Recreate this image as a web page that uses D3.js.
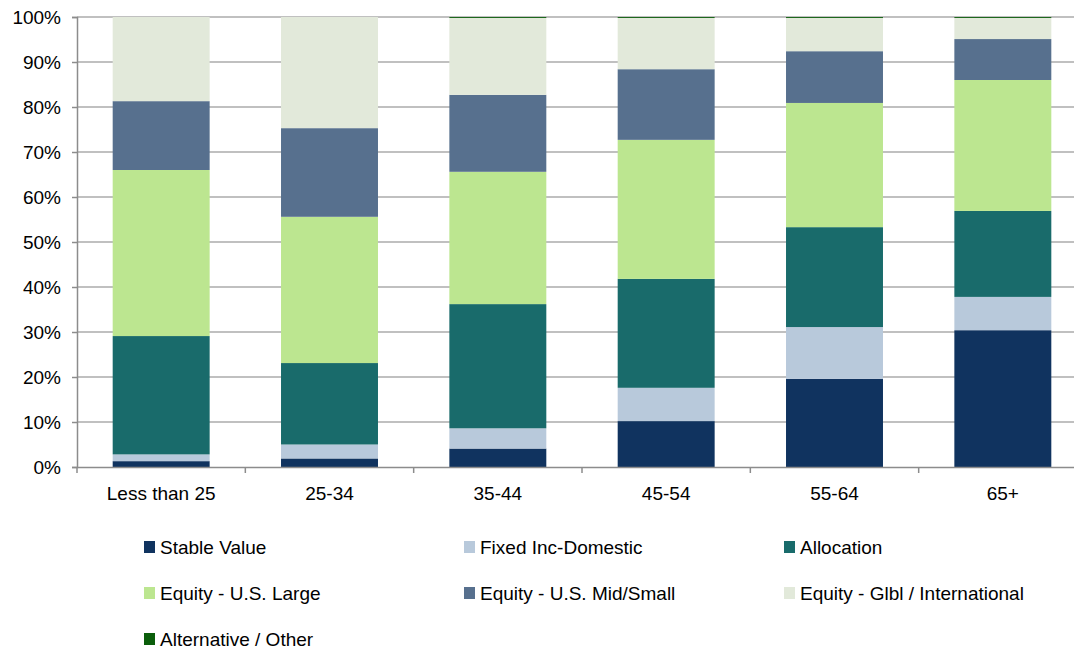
<!DOCTYPE html>
<html>
<head>
<meta charset="utf-8">
<script src="https://cdn.jsdelivr.net/npm/d3@7"></script>
<style>
    body { margin: 0; background: #fff; }
    svg { display: block; font-family: "Liberation Sans", Arial, sans-serif; }
</style>
</head>
<body>
<svg id="chart"></svg>
<script>
const categories = ["Less than 25", "25-34", "35-44", "45-54", "55-64", "65+"]

const seriesNames = [
    "Stable Value",
    "Fixed Inc-Domestic",
    "Allocation",
    "Equity - U.S. Large",
    "Equity - U.S. Mid/Small",
    "Equity - Glbl / International",
    "Alternative / Other"
]

// percent of assets, bottom to top
const stableValue = [1.3, 1.9, 4.1, 10.2, 19.6, 30.4]
const fixedIncDomestic = [1.5, 3.1, 4.5, 7.4, 11.5, 7.4]
const allocation = [26.3, 18.1, 27.6, 24.2, 22.2, 19.1]
const equityLarge = [36.9, 32.5, 29.4, 30.9, 27.6, 29.1]
const equityMidSmall = [15.3, 19.7, 17.1, 15.7, 11.5, 9.1]
const equityGlobal = [18.7, 24.7, 17.1, 11.4, 7.4, 4.7]
const alternative = [0, 0, 0.2, 0.2, 0.2, 0.2]

const yTicks = [0, 10, 20, 30, 40, 50, 60, 70, 80, 90, 100]

const colors = ["#10335f", "#b8c9db", "#196b6b", "#bce690", "#57708e", "#e2e9da", "#0b5e0b"]

const chartWidth = 1074
const chartHeight = 650
const plotLeft = 77
const plotRight = 1087
const plotTop = 17
const plotBottom = 467

const svg = d3.select("#chart").attr("width", chartWidth).attr("height", chartHeight)

const allSeries = [stableValue, fixedIncDomestic, allocation, equityLarge, equityMidSmall, equityGlobal, alternative]

const rows = categories.map((cat, i) => {
    const row = { category: cat }
    seriesNames.forEach((name, s) => { row[name] = allSeries[s][i] })
    return row
})

const stacked = d3.stack().keys(seriesNames)(rows)

const x = d3.scaleBand()
    .domain(categories)
    .range([plotLeft, plotRight])
    .paddingInner(0.424)
    .paddingOuter(0.212)

const y = d3.scaleLinear().domain([0, 100]).range([plotBottom, plotTop])

const color = d3.scaleOrdinal().domain(seriesNames).range(colors)

// gridlines
svg.append("g")
    .selectAll("line")
    .data(yTicks.filter((t) => t > 0))
    .join("line")
    .attr("x1", plotLeft)
    .attr("x2", chartWidth)
    .attr("y1", (t) => y(t))
    .attr("y2", (t) => y(t))
    .attr("stroke", "#ababab")
    .attr("stroke-width", 1.6)

// bars
svg.append("g")
    .selectAll("g")
    .data(stacked)
    .join("g")
    .attr("fill", (d) => color(d.key))
    .selectAll("rect")
    .data((d) => d)
    .join("rect")
    .attr("x", (d) => x(d.data.category))
    .attr("width", x.bandwidth())
    .attr("y", (d) => y(d[1]))
    .attr("height", (d) => Math.max(0, y(d[0]) - y(d[1])))

// y axis
const yAxis = svg.append("g")
    .attr("transform", `translate(${plotLeft},0)`)
    .call(d3.axisLeft(y).tickValues(yTicks).tickFormat((t) => t + "%").tickSize(5).tickPadding(11))

yAxis.select(".domain").attr("stroke", "#8c8c8c").attr("stroke-width", 1.5)
yAxis.selectAll(".tick line").attr("stroke", "#8c8c8c").attr("stroke-width", 1.5)
yAxis.selectAll(".tick text")
    .attr("fill", "#000")
    .attr("font-size", 19)
    .attr("font-family", "Liberation Sans, Arial, sans-serif")

// x axis
const xAxis = svg.append("g")
    .attr("transform", `translate(0,${plotBottom})`)
    .call(d3.axisBottom(x).tickSize(0).tickPadding(20))

xAxis.select(".domain").attr("stroke", "#8c8c8c").attr("stroke-width", 1.5)
xAxis.selectAll(".tick text")
    .attr("fill", "#000")
    .attr("font-size", 19)
    .attr("font-family", "Liberation Sans, Arial, sans-serif")

// category boundary ticks
svg.append("g")
    .selectAll("line")
    .data(d3.range(categories.length + 1))
    .join("line")
    .attr("x1", (i) => plotLeft + i * x.step())
    .attr("x2", (i) => plotLeft + i * x.step())
    .attr("y1", plotBottom)
    .attr("y2", plotBottom + 6)
    .attr("stroke", "#8c8c8c")
    .attr("stroke-width", 1.5)

// legend
const legendCols = [144, 464, 784]
const legendRows = [547, 593, 639]

const legend = svg.append("g")
    .selectAll("g")
    .data(seriesNames)
    .join("g")
    .attr("transform", (d, i) => `translate(${legendCols[i % 3]},${legendRows[Math.floor(i / 3)]})`)

legend.append("rect")
    .attr("x", 0)
    .attr("y", -6)
    .attr("width", 11)
    .attr("height", 12)
    .attr("fill", (d) => color(d))

legend.append("text")
    .attr("x", 16)
    .attr("y", 0)
    .attr("dy", "0.35em")
    .attr("font-size", 19)
    .attr("fill", "#000")
    .text((d) => d)
</script>
</body>
</html>
